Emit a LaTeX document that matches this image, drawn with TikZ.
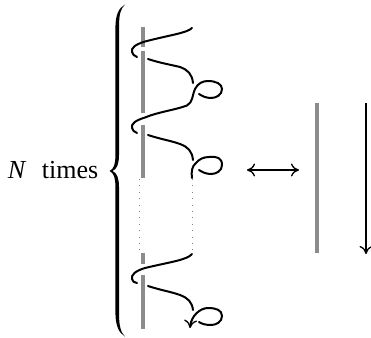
\documentclass[tikz,border=0pt]{standalone}
\usepackage{fontspec}
\setmainfont{Liberation Serif}
\usetikzlibrary{arrows.meta}
\definecolor{bargray}{gray}{0.55}
\tikzset{
  x=1pt,y=-1pt,
  bar/.style={draw=bargray,line width=4pt},
  strand/.style={draw=black,line width=2pt,line cap=round},
  dots/.style={draw=gray,line width=0.9pt,dash pattern=on 0.9pt off 5.5pt},
  tip/.style={-{Computer Modern Rightarrow[length=8pt,width=13pt,line width=1.3pt]}},
  duo/.style={{Computer Modern Rightarrow[length=8pt,width=13pt,line width=1.3pt]}-{Computer Modern Rightarrow[length=8pt,width=13pt,line width=1.3pt]}}
}
\begin{document}
\begin{tikzpicture}
\useasboundingbox (0,0) rectangle (371,337);
% label
\node[anchor=base east,font=\fontsize{26}{26}\selectfont,inner sep=0pt] (label) at (98.5,178) {\textit{N}\hspace{0.6em}times};
% brace
\fill (125,4.5) .. controls (119,8) and (115.4,14) .. (115.4,28)
  -- (115.4,155) .. controls (115.4,164) and (114,169) .. (109.5,171)
  .. controls (114,173) and (115.4,178) .. (115.4,187)
  -- (115.4,312) .. controls (115.4,326) and (119,333) .. (125,336.5)
  .. controls (120.5,332) and (119,326) .. (119,312)
  -- (119,187) .. controls (119,178) and (117,173) .. (112.5,171)
  .. controls (117,169) and (119,164) .. (119,155)
  -- (119,28) .. controls (119,14) and (120.5,9) .. (125,4.5) -- cycle;
% gray bars
\draw[bar] (142.7,27) -- (142.7,47);
\draw[bar] (142.7,51) -- (142.7,113);
\draw[bar] (142.7,125) -- (142.7,178);
\draw[bar] (142.7,253) -- (142.7,264);
\draw[bar] (142.7,275) -- (142.7,329);
% first period
\draw[strand] (192,28) .. controls (187,33) and (170,35) .. (145,41.5) .. controls (135,44.5) and (131,48) .. (132,52) .. controls (132.5,54) and (134,56) .. (137,57);
\draw[strand] (148,59) .. controls (160,63) and (172,65) .. (180,67) .. controls (188,70) and (192,74) .. (193,83);
\draw[strand] (199,94) .. controls (202,96) and (206,98) .. (211,98) .. controls (216,98) and (222,95) .. (222,89) .. controls (222,84) and (216,81) .. (208,81) .. controls (203,81) and (198,83) .. (195,89) .. controls (192,96) and (193,102) .. (187,105.5) .. controls (175,110) and (158,112) .. (145,117.5) .. controls (135,120.5) and (131,124) .. (132,128) .. controls (132.5,130) and (134,132) .. (137,133);
% second period
\draw[strand] (148,135) .. controls (160,139) and (172,141) .. (180,144) .. controls (188,147) and (192,151) .. (193,160);
\draw[strand] (192,178) .. controls (191,172) and (192,166) .. (196,163) .. controls (199,159) and (204,157) .. (209,157) .. controls (217,156) and (222,158) .. (222,165) .. controls (222,171) and (216,174) .. (211,174) .. controls (206,174) and (202,172) .. (199,170);
% dotted continuation
\draw[dots] (139,179) -- (139,250);
\draw[dots] (192,179) -- (192,250);
% last period
\draw[strand] (192,254) .. controls (187,260) and (170,262) .. (145,268) .. controls (135,271) and (131,275) .. (132,279) .. controls (132.5,281) and (134,283) .. (137,283);
\draw[strand] (148,286) .. controls (160,290) and (172,292) .. (180,295) .. controls (188,298) and (192,302) .. (193,310);
\draw[strand,tip] (199,322) .. controls (202,324) and (206,325) .. (211,325) .. controls (216,325) and (222,322) .. (222,316) .. controls (222,310) and (216,308) .. (208,308) .. controls (200,308) and (191,316) .. (190,328);
% equivalence arrow
\coordinate (dl) at (247,170);
\coordinate (dr) at (299,170);
\draw[duo,line width=1.3pt] (dl) -- (dr);
% right side
\draw[draw=bargray,line width=4.5pt] (317,103) -- (317,253);
\draw[tip,line width=1.4pt] (366,103) -- (366,254);
\end{tikzpicture}
\end{document}
